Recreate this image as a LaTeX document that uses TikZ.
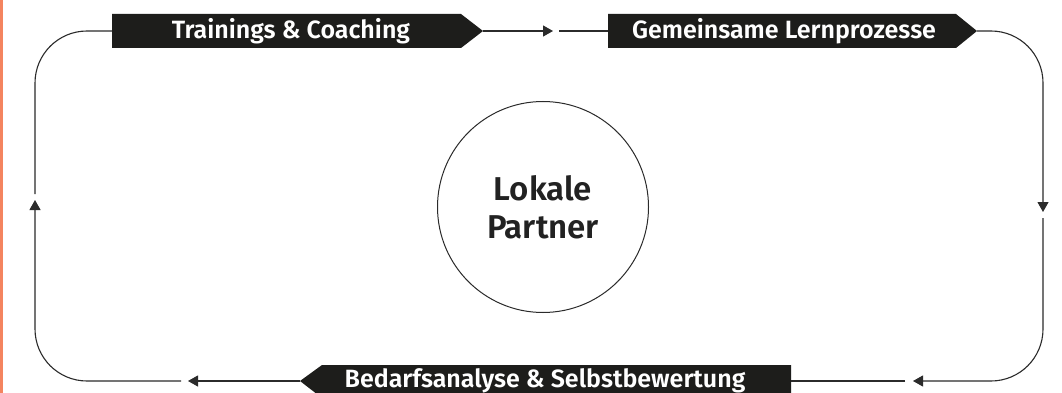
\documentclass[tikz,border=0pt]{standalone}
\usepackage{fontspec}
\setmainfont{Fira Sans}[BoldFont={Fira Sans SemiBold}]
\usetikzlibrary{arrows.meta}
\definecolor{bannerfill}{HTML}{1D1D1B}
\definecolor{linecol}{HTML}{2B2B2B}
\definecolor{stripcol}{HTML}{F4845F}
\definecolor{textdark}{HTML}{222222}
\tikzset{
  conn/.style={draw=linecol, line width=1.1pt},
  tip/.style={-{Triangle[length=10pt,width=11pt]}},
  bannertext/.style={text=white, font=\fontsize{25}{27}\selectfont\bfseries, inner sep=0pt},
  bannershape/.style={fill=bannerfill},
  hub/.style={circle, draw=linecol, line width=1pt, minimum size=211pt, inner sep=0pt, align=center, text=textdark, font=\fontsize{33}{38}\selectfont\bfseries}
}
\begin{document}
\begin{tikzpicture}[x=1pt,y=-1pt]
\useasboundingbox (0,0) rectangle (1062,393);
\clip (0,0) rectangle (1062,393);
\fill[white] (0,0) rectangle (1062,393);
\fill[stripcol] (0,0) rectangle (2.5,393);

% banners
\fill[bannershape] (112,14) -- (461,14) -- (483,31) -- (461,48) -- (112,48) -- cycle;
\fill[bannershape] (608,14) -- (956,14) -- (977,31) -- (956,48) -- (608,48) -- cycle;
\fill[bannershape] (300,381) -- (322,365) -- (791,365) -- (791,398) -- (322,398) -- cycle;

\node[bannertext] (t1) at (291,31) {Trainings \& Coaching};
\node[bannertext] (t2) at (784,31) {Gemeinsame Lernprozesse};
\node[bannertext] (t3) at (545,381) {Bedarfsanalyse \& Selbstbewertung};

\node[hub] (hub) at (543,207) {Lokale\\Partner};

% connector coordinates
\coordinate (b1l) at (112,31);
\coordinate (b1r) at (483,31);
\coordinate (b2l) at (608,31);
\coordinate (b2r) at (977,31);
\coordinate (b3l) at (300,381);
\coordinate (b3r) at (791,381);
\coordinate (cTR) at (1043,31);
\coordinate (cBR) at (1043,381);
\coordinate (cBL) at (35,381);
\coordinate (cTL) at (35,31);
\coordinate (a1) at (553,31);  \coordinate (a1s) at (559,31);
\coordinate (a2) at (1043,212); \coordinate (a2s) at (1043,218);
\coordinate (a3) at (913,381); \coordinate (a3s) at (905,381);
\coordinate (a4) at (188,381); \coordinate (a4s) at (181,381);
\coordinate (a5) at (35,200);  \coordinate (a5s) at (35,194);

\draw[conn,tip] (b1r) -- (a1);
\draw[conn] (a1s) -- (b2l);
\draw[conn,tip,rounded corners=52pt] (b2r) -- (cTR) -- (a2);
\draw[conn,tip,rounded corners=52pt] (a2s) -- (cBR) -- (a3);
\draw[conn] (a3s) -- (b3r);
\draw[conn,tip] (b3l) -- (a4);
\draw[conn,tip,rounded corners=52pt] (a4s) -- (cBL) -- (a5);
\draw[conn,rounded corners=52pt] (a5s) -- (cTL) -- (b1l);
\end{tikzpicture}
\end{document}
